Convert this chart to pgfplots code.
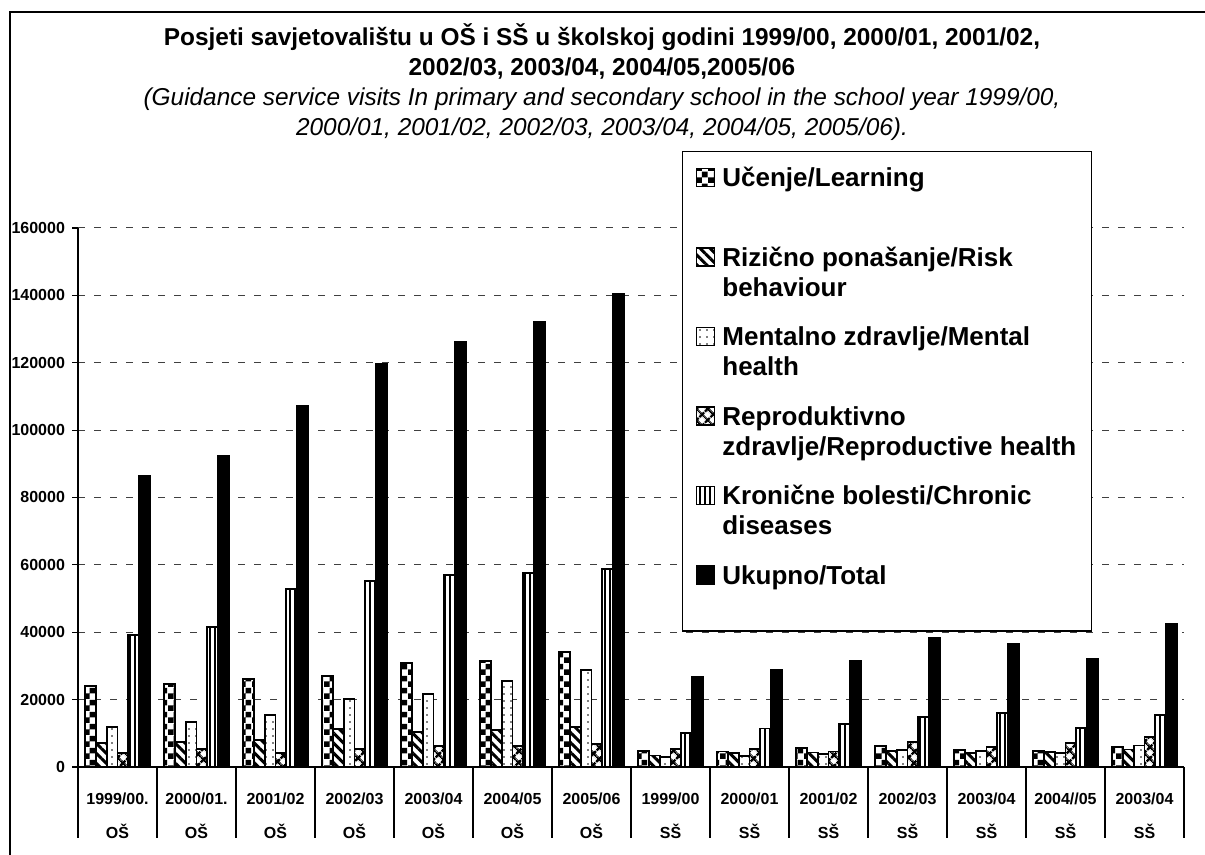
\documentclass[border=0pt]{standalone}
\usepackage{fontspec}
\setmainfont{Liberation Sans}
\usepackage{pgfplots}
\usepackage{pgfplotstable}
\pgfplotsset{compat=1.18}
\usetikzlibrary{patterns,patterns.meta}

\pgfdeclarepatternformonly{bigchecker}{\pgfqpoint{0pt}{0pt}}{\pgfqpoint{6pt}{6pt}}{\pgfqpoint{6pt}{6pt}}{%
  \pgfpathrectangle{\pgfqpoint{0pt}{0pt}}{\pgfqpoint{3pt}{3pt}}%
  \pgfpathrectangle{\pgfqpoint{3pt}{3pt}}{\pgfqpoint{3pt}{3pt}}%
  \pgfusepath{fill}}

\pgfplotstableread{
x  L      R      M      P     C      T
0  24000  7100   11900  4100  39200  86400
1  24650  7400   13400  5300  41600  92400
2  26100  8000   15400  4100  52900  107200
3  27000  11300  20200  5300  55300  119800
4  30900  10400  21700  6200  57000  126300
5  31500  11000  25500  6200  57600  132000
6  34200  11900  28800  6800  58800  140500
7  4750   3400   3000   5400  10100  26700
8  4600   4100   3300   5400  11400  28900
9  5600   4300   3800   4600  12700  31500
10 6300   4700   5000   7400  14800  38300
11 5000   4200   4800   6000  16100  36500
12 4700   4400   4200   7100  11600  32100
13 6000   5200   6400   8900  15500  42500
}\datatable

\begin{document}
\begin{tikzpicture}
\path[use as bounding box] (0pt,0pt) rectangle (602.5pt,427.5pt);
\draw[line width=0.8pt] (5pt,0pt) -- (5pt,421.5pt) -- (602.5pt,421.5pt);
\begin{axis}[
  at={(39pt,44pt)}, anchor=south west,
  scale only axis, width=553pt, height=269.5pt,
  xmin=-0.5, xmax=13.5, ymin=0, ymax=160000,
  clip=false,
  ybar=0pt, bar width=5.4pt,
  axis x line*=bottom, axis y line*=left,
  axis line style={black, line width=0.6pt},
  xtick={0,...,13},
  xticklabels={{1999/00.\\[7.4pt]OŠ},{2000/01.\\[7.4pt]OŠ},{2001/02\\[7.4pt]OŠ},{2002/03\\[7.4pt]OŠ},{2003/04\\[7.4pt]OŠ},{2004/05\\[7.4pt]OŠ},{2005/06\\[7.4pt]OŠ},{1999/00\\[7.4pt]SŠ},{2000/01\\[7.4pt]SŠ},{2001/02\\[7.4pt]SŠ},{2002/03\\[7.4pt]SŠ},{2003/04\\[7.4pt]SŠ},{2004//05\\[7.4pt]SŠ},{2003/04\\[7.4pt]SŠ}},
  xtick style={draw=none},
  xticklabel style={font=\bfseries\fontsize{8}{9.6}\selectfont, align=center, yshift=-6.5pt},
  scaled y ticks=false,
  ytick={0,20000,...,160000},
  yticklabels={0,20000,40000,60000,80000,100000,120000,140000,160000},
  yticklabel style={font=\bfseries\fontsize{8}{9.6}\selectfont},
  tick align=outside, major tick length=3pt,
  ytick style={black, line width=0.6pt},
  ymajorgrids,
  grid style={black!75, line width=0.5pt, dash pattern=on 3.5pt off 4.5pt},
  legend style={at={(axis description cs:0.5461,1.1429)}, anchor=north west,
    draw=black, line width=0.6pt, fill=white,
    inner xsep=6.5pt, inner ysep=6pt, row sep=10.75pt,
    font=\bfseries\fontsize{13}{15}\selectfont,
    nodes={align=left, inner sep=1pt, anchor=base west},
    /tikz/every odd column/.append style={column sep=2.5pt}},
  legend cell align=left,
  legend image code/.code={\draw[#1] (0pt,15pt) rectangle (9pt,24pt);},
  legend entries={{\strut Učenje/Learning\\\strut},
                  {\strut Rizično ponašanje/Risk\\behaviour\strut},
                  {\strut Mentalno zdravlje/Mental\\health\strut},
                  {\strut Reproduktivno\\zdravlje/Reproductive health\strut},
                  {\strut Kronične bolesti/Chronic\\diseases\strut},
                  {\strut Ukupno/Total\\\strut}},
]
\addplot[draw=black, line width=0.9pt, preaction={fill=white}, pattern=bigchecker] table[x=x,y=L] {\datatable};
\addplot[draw=black, line width=0.9pt, preaction={fill=white}, pattern={Lines[angle=-45,distance=3.5pt,line width=1.5pt]}] table[x=x,y=R] {\datatable};
\addplot[draw=black, line width=0.9pt, preaction={fill=white}, pattern={Dots[distance=3.5pt,radius=0.45pt]}] table[x=x,y=M] {\datatable};
\addplot[draw=black, line width=0.9pt, preaction={fill=white}, pattern={Hatch[angle=45,distance=4pt,line width=1.3pt]}] table[x=x,y=P] {\datatable};
\addplot[draw=black, line width=0.9pt, preaction={fill=white}, pattern={Lines[angle=90,distance=2.5pt,line width=0.7pt]}] table[x=x,y=C] {\datatable};
\addplot[draw=black, line width=0.9pt, fill=black] table[x=x,y=T] {\datatable};
\pgfplotsinvokeforeach{-0.5,0.5,1.5,2.5,3.5,4.5,5.5,6.5,7.5,8.5,9.5,10.5,11.5,12.5,13.5}{
  \draw[black, line width=0.6pt] (axis cs:#1,0) -- ++(0pt,-35.5pt);
}
\end{axis}
\node[align=center, font=\fontsize{12.2}{15}\selectfont] at (301pt,386.5pt)
  {\textbf{Posjeti savjetovalištu u OŠ i SŠ u školskoj godini 1999/00, 2000/01, 2001/02,}\\
   \textbf{2002/03, 2003/04, 2004/05,2005/06}\\
   \textit{(Guidance service visits In primary and secondary school in the school year 1999/00,}\\
   \textit{2000/01, 2001/02, 2002/03, 2003/04, 2004/05, 2005/06).}};
\end{tikzpicture}
\end{document}
